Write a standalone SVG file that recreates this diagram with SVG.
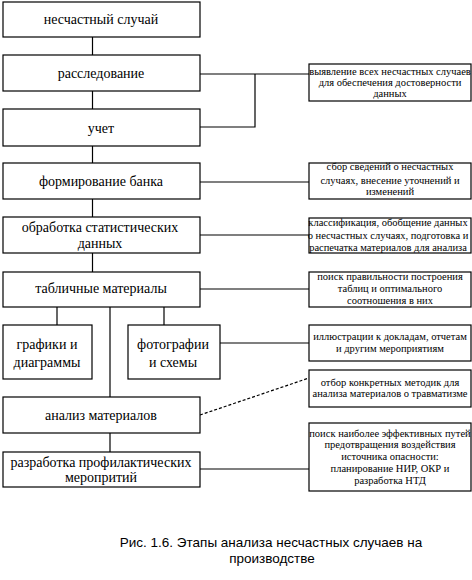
<svg xmlns="http://www.w3.org/2000/svg" width="472" height="580" viewBox="0 0 472 580">
<style>
rect{fill:#fff;stroke:#000;stroke-width:1.2}
.l{font-size:14px;text-anchor:middle;fill:#000}
.s{font-size:10.5px;text-anchor:middle;fill:#000}
.c{font-family:"Liberation Sans",Arial,sans-serif;font-size:13.5px;text-anchor:middle;fill:#000}
#conn line,#conn polyline{stroke:#000;stroke-width:1.2;fill:none}
</style>
<rect x="0" y="0" width="472" height="580" style="fill:#fff;stroke:none"/>
<g id="conn">
<line x1="92.5" y1="37" x2="92.5" y2="55"/>
<line x1="92.5" y1="91" x2="92.5" y2="109"/>
<line x1="92.5" y1="146" x2="92.5" y2="163"/>
<line x1="92.5" y1="199" x2="92.5" y2="217"/>
<line x1="92.5" y1="253" x2="92.5" y2="272"/>
<line x1="57" y1="307" x2="57" y2="325"/>
<line x1="164" y1="307" x2="164" y2="325"/>
<line x1="110" y1="307" x2="110" y2="397"/>
<line x1="110" y1="433" x2="110" y2="452"/>
<line x1="200" y1="74" x2="309" y2="74"/>
<polyline points="200,127 255,127 255,74"/>
<line x1="200" y1="182" x2="309" y2="182"/>
<line x1="200" y1="235" x2="309" y2="235"/>
<line x1="200" y1="289" x2="309" y2="289"/>
<line x1="220" y1="343" x2="309" y2="343"/>
<line x1="200" y1="415" x2="309" y2="378" stroke-dasharray="3,2"/>
<line x1="200" y1="469" x2="309" y2="469"/>
</g>
<g font-family="Liberation Serif, serif">
<g id="n1"><rect x="3" y="2" width="197" height="35"/><text class="l" x="101" y="24">несчастный случай</text></g>
<g id="n2"><rect x="3" y="55" width="197" height="36"/><text class="l" x="101" y="78">расследование</text></g>
<g id="n3"><rect x="3" y="109" width="197" height="37"/><text class="l" x="101" y="133">учет</text></g>
<g id="n4"><rect x="3" y="163" width="197" height="36"/><text class="l" x="101" y="186">формирование банка</text></g>
<g id="n5"><rect x="3" y="217" width="197" height="36"/><text class="l" x="100" y="232">обработка статистических</text><text class="l" x="100" y="248">данных</text></g>
<g id="n6"><rect x="3" y="272" width="197" height="35"/><text class="l" x="101" y="293">табличные материалы</text></g>
<g id="n7"><rect x="3" y="325" width="89" height="54"/><text class="l" x="47" y="349">графики и</text><text class="l" x="47" y="367">диаграммы</text></g>
<g id="n8"><rect x="128" y="325" width="92" height="54"/><text class="l" x="173" y="349">фотографии</text><text class="l" x="173" y="367">и схемы</text></g>
<g id="n9"><rect x="3" y="397" width="197" height="36"/><text class="l" x="101" y="420">анализ материалов</text></g>
<g id="n10"><rect x="3" y="452" width="197" height="35"/><text class="l" x="101" y="467">разработка профилактических</text><text class="l" x="101" y="482">меропритий</text></g>
<g id="r1"><rect x="309" y="64" width="162" height="37"/><text class="s" x="390" y="75">выявление всех несчастных случаев</text><text class="s" x="390" y="86">для обеспечения достоверности</text><text class="s" x="390" y="97">данных</text></g>
<g id="r2"><rect x="309" y="163" width="162" height="36"/><text class="s" x="390" y="170">сбор сведений о несчастных</text><text class="s" x="390" y="184">случаях, внесение уточнений и</text><text class="s" x="390" y="195">изменений</text></g>
<g id="r3"><rect x="309" y="218" width="162" height="35"/><text class="s" x="388" y="226">классификация, обобщение данных</text><text class="s" x="388" y="239">о несчастных случаях, подготовка и</text><text class="s" x="388" y="251">распечатка материалов для анализа</text></g>
<g id="r4"><rect x="309" y="272" width="162" height="35"/><text class="s" x="390" y="280">поиск правильности построения</text><text class="s" x="390" y="292">таблиц и оптимального</text><text class="s" x="390" y="304">соотношения в них</text></g>
<g id="r5"><rect x="309" y="325" width="162" height="36"/><text class="s" x="390" y="340">иллюстрации к докладам, отчетам</text><text class="s" x="390" y="352">и другим мероприятиям</text></g>
<g id="r6"><rect x="309" y="370" width="162" height="37"/><text class="s" x="390" y="386">отбор конкретных методик для</text><text class="s" x="390" y="397">анализа материалов  о травматизме</text></g>
<g id="r7"><rect x="309" y="423" width="162" height="68"/><text class="s" x="390" y="437">поиск наиболее эффективных путей</text><text class="s" x="390" y="448">предотвращения воздействия</text><text class="s" x="390" y="460">источника опасности:</text><text class="s" x="390" y="472">планирование НИР, ОКР и</text><text class="s" x="390" y="484">разработка НТД</text></g>
</g>
<g id="caption"><text class="c" x="271" y="547">Рис. 1.6. Этапы анализа несчастных случаев на</text><text class="c" x="272" y="563">производстве</text></g>
</svg>
